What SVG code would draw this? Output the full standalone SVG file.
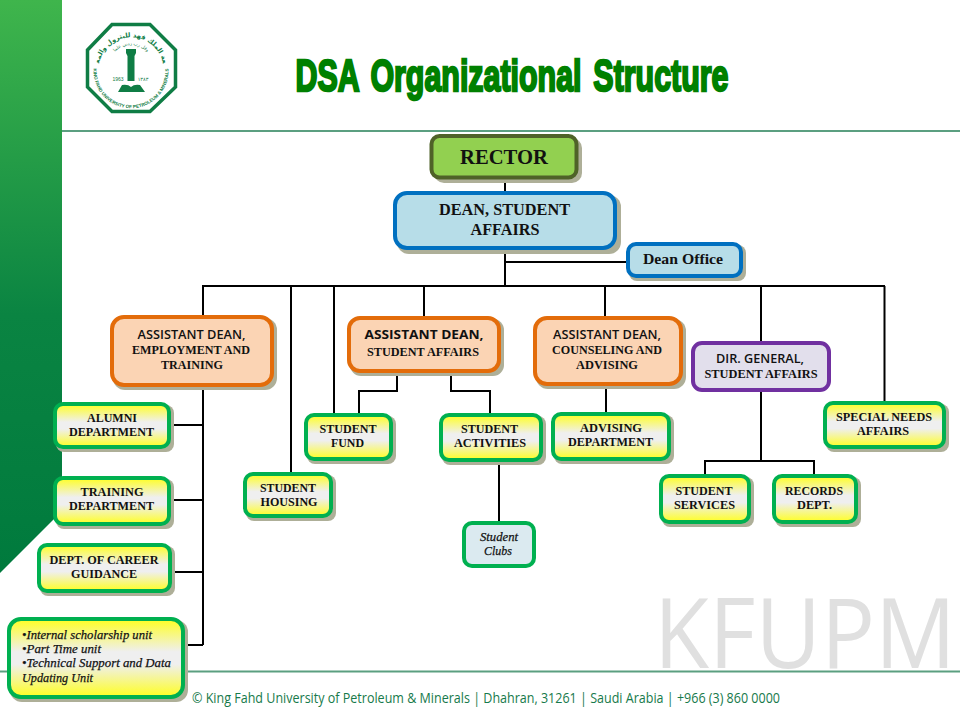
<svg xmlns="http://www.w3.org/2000/svg" xmlns:xlink="http://www.w3.org/1999/xlink" width="960" height="720" viewBox="0 0 960 720">
<style>
text{font-family:"Liberation Serif","Times New Roman",serif;fill:#111;text-anchor:middle;font-weight:bold;font-size:13.500px}
.sans{font-family:"Open Sans","Liberation Sans",sans-serif;font-size:13px;font-weight:600}
.it{font-style:italic;font-weight:normal;stroke:#111;stroke-width:.25px}
.left{text-anchor:start}
.sh{fill:#aeaf98}
.g{fill:url(#yel);stroke:#00b050;stroke-width:4}
.o{fill:#fbd4b4;stroke:#e36c0a;stroke-width:4}
.b{fill:#b7dde8;stroke:#0070c0;stroke-width:4}
.p{fill:#e2dfec;stroke:#7030a0;stroke-width:4}
.c{fill:#dbeaf0;stroke:#00b050;stroke-width:4}
.r{fill:#92d050;stroke:#4f6228;stroke-width:4}
#connectors path{fill:none;stroke:#000;stroke-width:2}
.rule{stroke:#5b9f80;stroke-width:2}
</style>
<defs>
<linearGradient id="side" x1="0" y1="0" x2="0" y2="1"><stop offset="0" stop-color="#3fb54c"/><stop offset=".55" stop-color="#0a8442"/><stop offset="1" stop-color="#007a3d"/></linearGradient>
<linearGradient id="yel" x1="0" y1="0" x2="0" y2="1"><stop offset="0" stop-color="#ffff20"/><stop offset=".42" stop-color="#efefef"/><stop offset=".58" stop-color="#efefef"/><stop offset="1" stop-color="#ffff20"/></linearGradient>
<path id="arcB" d="M93.800 66A37.500 37.500 0 1 0 168.200 66"/>
<path id="arcT" d="M99 64A32.500 32.500 0 0 1 163 64"/>
<path id="arcM" d="M108 68A23 23 0 0 1 154 68"/>
</defs>
<rect width="960" height="720" fill="#fff"/>
<g id="background">
<path d="M0 0H62V511L0 573Z" fill="url(#side)"/>
<path class="rule" d="M62 131H960M0 671.500H960"/>
<text x="805" y="668" textLength="302" lengthAdjust="spacingAndGlyphs" style="font-family:'Open Sans','Liberation Sans',sans-serif;font-size:97px;font-weight:400;fill:#e0e0e0">KFUPM</text>
<text x="486" y="703" textLength="588" lengthAdjust="spacingAndGlyphs" style="font-family:'Open Sans','Liberation Sans',sans-serif;font-size:15px;font-weight:400;fill:#177a4b">© King Fahd University of Petroleum &amp; Minerals | Dhahran, 31261 | Saudi Arabia | +966 (3) 860 0000</text>
</g>
<g id="logo">
<path d="M112 24.500H150L175.500 50V87L150 111.500H112L87.500 87V50Z" fill="#fff" stroke="#0f7d45" stroke-width="3.500"/>
<text style="font-size:4.600px;font-family:'Liberation Sans',sans-serif;fill:#0f7d45"><textPath xlink:href="#arcB" href="#arcB" startOffset="50%">KING FAHD UNIVERSITY OF PETROLEUM &amp; MINERALS</textPath></text>
<text style="font-size:6.600px;font-family:'DejaVu Sans',sans-serif;fill:#0f7d45"><textPath xlink:href="#arcT" href="#arcT" startOffset="50%">جامعة الملك فهد للبترول والمعادن</textPath></text>
<text style="font-size:4.500px;font-family:'DejaVu Sans',sans-serif;font-weight:normal;fill:#0f7d45"><textPath xlink:href="#arcM" href="#arcM" startOffset="50%">وقل رب زدني علما</textPath></text>
<path d="M126 49H136V53L134.500 56V81H127.500V56L126 53Z" fill="#0f7d45"/>
<path d="M118 92L122 85Q128 84 131 87Q134 84 140 85L145 92Z" fill="#0f7d45"/>
<text x="118" y="81" style="font-size:5px;font-family:'Liberation Sans',sans-serif;font-weight:normal;fill:#0f7d45">1963</text>
<text x="143" y="81" style="font-size:5px;font-family:'DejaVu Sans',sans-serif;font-weight:normal;fill:#0f7d45">١٣٨٣</text>
</g>
<text id="title" x="512" y="91" textLength="433" lengthAdjust="spacingAndGlyphs" style="font-family:'Liberation Sans',sans-serif;font-size:45px;font-weight:bold;word-spacing:5px;fill:#008000;stroke:#008000;stroke-width:2.400px">DSA Organizational Structure</text>
<g id="connectors">
<path d="M505 179V191M505 250V286M505 262H626M203 316V286H885M291 286V472M334 286V413M424 286V316M605 286V316M761 286V341M884.500 286V401"/>
<path d="M203 387V645M171 425H203M171 500H203M172 572H203M185 645H203"/>
<path d="M397 373V391H359V413M451 370V391H490V413M499 462V521M606 386V412"/>
<path d="M761 392V461M705 474V461H814V474"/>
</g>
<g id="rector"><rect class="sh" x="434" y="138" width="148" height="45" rx="10"/><rect class="r" x="431.500" y="136" width="145" height="41.500" rx="8"/><text x="504" y="164" textLength="88" lengthAdjust="spacingAndGlyphs" style="font-size:22px">RECTOR</text></g>
<g id="dean"><rect class="sh" x="397" y="195" width="224" height="59" rx="12"/><rect class="b" x="395" y="193" width="220" height="55" rx="12"/><text x="504.500" y="215" textLength="131" lengthAdjust="spacingAndGlyphs" style="font-size:16px">DEAN, STUDENT</text><text x="505" y="235" textLength="69" lengthAdjust="spacingAndGlyphs" style="font-size:16px">AFFAIRS</text></g>
<g id="dean-office"><rect class="sh" x="629" y="245" width="117" height="36" rx="8"/><rect class="b" x="628" y="244" width="113" height="32" rx="8"/><text x="683" y="264" textLength="80" lengthAdjust="spacingAndGlyphs" style="font-size:15px">Dean Office</text></g>
<g id="ad-employment"><rect class="sh" x="113" y="318" width="164" height="72" rx="12"/><rect class="o" x="112" y="317" width="160" height="68" rx="12"/><text class="sans" x="191.500" y="339" textLength="108" lengthAdjust="spacingAndGlyphs">ASSISTANT DEAN,</text><text x="191" y="354" textLength="118" lengthAdjust="spacingAndGlyphs">EMPLOYMENT AND</text><text x="192" y="369" textLength="62" lengthAdjust="spacingAndGlyphs">TRAINING</text></g>
<g id="alumni"><rect class="sh" x="56" y="405" width="118" height="47" rx="8"/><rect class="g" x="55" y="404" width="114" height="43" rx="8"/><text x="112" y="422" textLength="50" lengthAdjust="spacingAndGlyphs">ALUMNI</text><text x="111.500" y="436" textLength="85" lengthAdjust="spacingAndGlyphs">DEPARTMENT</text></g>
<g id="training"><rect class="sh" x="56" y="479" width="118" height="50" rx="8"/><rect class="g" x="55" y="478" width="114" height="46" rx="8"/><text x="112" y="496" textLength="63" lengthAdjust="spacingAndGlyphs">TRAINING</text><text x="111.500" y="510" textLength="85" lengthAdjust="spacingAndGlyphs">DEPARTMENT</text></g>
<g id="career"><rect class="sh" x="40" y="546" width="135" height="50" rx="8"/><rect class="g" x="39" y="545" width="131" height="46" rx="8"/><text x="104" y="564" textLength="109" lengthAdjust="spacingAndGlyphs">DEPT. OF CAREER</text><text x="104" y="578" textLength="66" lengthAdjust="spacingAndGlyphs">GUIDANCE</text></g>
<g id="units"><rect class="sh" x="10" y="620" width="178" height="82" rx="12"/><rect class="g" x="9" y="619" width="174" height="78" rx="12"/><text class="it left" x="22" y="639" textLength="130" lengthAdjust="spacingAndGlyphs">•Internal scholarship unit</text><text class="it left" x="22" y="653" textLength="79" lengthAdjust="spacingAndGlyphs">•Part Time unit</text><text class="it left" x="22" y="667" textLength="149" lengthAdjust="spacingAndGlyphs">•Technical Support and Data</text><text class="it left" x="22" y="682" textLength="71" lengthAdjust="spacingAndGlyphs">Updating Unit</text></g>
<g id="housing"><rect class="sh" x="246" y="475" width="90" height="46" rx="8"/><rect class="g" x="245" y="474" width="86" height="42" rx="8"/><text x="288" y="492" textLength="56" lengthAdjust="spacingAndGlyphs">STUDENT</text><text x="289" y="506" textLength="57" lengthAdjust="spacingAndGlyphs">HOUSING</text></g>
<g id="ad-student-affairs"><rect class="sh" x="350" y="319" width="154" height="57" rx="11"/><rect class="o" x="349" y="318" width="150" height="53" rx="11"/><text class="sans" x="424" y="339" textLength="119" lengthAdjust="spacingAndGlyphs" style="font-weight:700">ASSISTANT DEAN,</text><text x="423" y="356" textLength="112" lengthAdjust="spacingAndGlyphs">STUDENT AFFAIRS</text></g>
<g id="fund"><rect class="sh" x="307" y="416" width="89" height="48" rx="8"/><rect class="g" x="306" y="415" width="85" height="44" rx="8"/><text x="348" y="433" textLength="57" lengthAdjust="spacingAndGlyphs">STUDENT</text><text x="347.500" y="447" textLength="33" lengthAdjust="spacingAndGlyphs">FUND</text></g>
<g id="activities"><rect class="sh" x="442" y="416" width="104" height="49" rx="8"/><rect class="g" x="441" y="415" width="100" height="45" rx="8"/><text x="489.500" y="433" textLength="57" lengthAdjust="spacingAndGlyphs">STUDENT</text><text x="490" y="447" textLength="72" lengthAdjust="spacingAndGlyphs">ACTIVITIES</text></g>
<g id="clubs"><rect class="c" x="464" y="523" width="70" height="43" rx="8"/><text class="it" x="499" y="541" textLength="38" lengthAdjust="spacingAndGlyphs">Student</text><text class="it" x="498" y="555" textLength="28" lengthAdjust="spacingAndGlyphs">Clubs</text></g>
<g id="ad-counseling"><rect class="sh" x="536" y="319" width="150" height="70" rx="12"/><rect class="o" x="535" y="318" width="146" height="66" rx="12"/><text class="sans" x="607" y="339" textLength="108" lengthAdjust="spacingAndGlyphs">ASSISTANT DEAN,</text><text x="607" y="354" textLength="110" lengthAdjust="spacingAndGlyphs">COUNSELING AND</text><text x="607" y="369" textLength="62" lengthAdjust="spacingAndGlyphs">ADVISING</text></g>
<g id="advising"><rect class="sh" x="554" y="415" width="120" height="49" rx="8"/><rect class="g" x="553" y="414" width="116" height="45" rx="8"/><text x="611" y="432" textLength="62" lengthAdjust="spacingAndGlyphs">ADVISING</text><text x="610.500" y="446" textLength="85" lengthAdjust="spacingAndGlyphs">DEPARTMENT</text></g>
<g id="dir-general"><rect class="p" x="693" y="343" width="136" height="47" rx="9"/><text class="sans" x="760" y="363" textLength="88" lengthAdjust="spacingAndGlyphs">DIR. GENERAL,</text><text x="761" y="378" textLength="113" lengthAdjust="spacingAndGlyphs">STUDENT AFFAIRS</text></g>
<g id="special"><rect class="sh" x="826" y="404" width="123" height="48" rx="8"/><rect class="g" x="825" y="403" width="119" height="44" rx="8"/><text x="884" y="421" textLength="96" lengthAdjust="spacingAndGlyphs">SPECIAL NEEDS</text><text x="883" y="435" textLength="52" lengthAdjust="spacingAndGlyphs">AFFAIRS</text></g>
<g id="services"><rect class="sh" x="662" y="477" width="92" height="50" rx="8"/><rect class="g" x="661" y="476" width="88" height="46" rx="8"/><text x="704" y="495" textLength="57" lengthAdjust="spacingAndGlyphs">STUDENT</text><text x="704.500" y="509" textLength="61" lengthAdjust="spacingAndGlyphs">SERVICES</text></g>
<g id="records"><rect class="sh" x="775" y="477" width="86" height="50" rx="8"/><rect class="g" x="774" y="476" width="82" height="46" rx="8"/><text x="814" y="495" textLength="58" lengthAdjust="spacingAndGlyphs">RECORDS</text><text x="814.500" y="509" textLength="35" lengthAdjust="spacingAndGlyphs">DEPT.</text></g>
</svg>
